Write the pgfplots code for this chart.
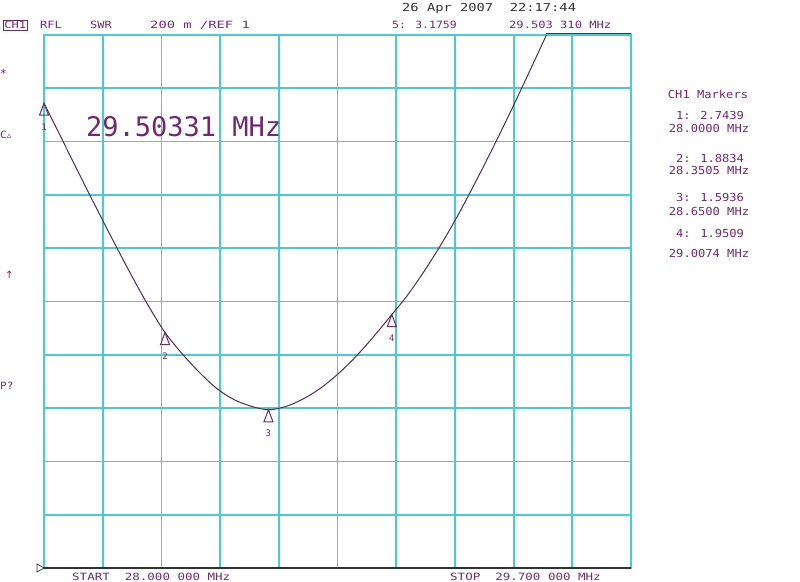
\documentclass[border=0pt]{standalone}
\usepackage{pgfplots}
\pgfplotsset{compat=1.18}
\usepackage{fontspec}
\setmainfont{DejaVu Sans Mono}
\newfontfamily\symfont{DejaVu Sans}

\definecolor{gridcyan}{RGB}{70,205,212}
\definecolor{ink}{RGB}{112,40,112}
\definecolor{trace}{RGB}{80,45,85}
\definecolor{darkline}{RGB}{50,50,50}

% text of the instrument screen: size, horizontal stretch, text
\newcommand\scr[3]{\scalebox{#2}[1]{\fontsize{#1}{#1}\selectfont #3}}

\begin{document}
\begin{tikzpicture}[x=1pt,y=1pt]
  \useasboundingbox (0,0) rectangle (800,581);
  \begin{axis}[
      at={(44pt,13pt)}, anchor=south west,
      scale only axis,
      width=587pt, height=533pt,
      xmin=28, xmax=29.7,
      ymin=1, ymax=3,
      xtick={28,28.17,28.34,28.51,28.68,28.85,29.02,29.19,29.36,29.53,29.7},
      ytick={1,1.2,1.4,1.6,1.8,2,2.2,2.4,2.6,2.8,3},
      xticklabels={}, yticklabels={},
      major tick length=0pt,
      grid=major,
      grid style={gridcyan, line width=1.8pt},
      axis line style={gridcyan, line width=1.8pt},
      clip=false,
    ]

    % SWR trace read from the screen
    \addplot[trace, line width=1pt, smooth] coordinates {
      (28.00,2.7439) (28.05,2.614) (28.10,2.484) (28.15,2.355)
      (28.20,2.229) (28.25,2.106) (28.30,1.989) (28.3505,1.8834)
      (28.40,1.804) (28.45,1.734) (28.50,1.674) (28.55,1.632)
      (28.60,1.607) (28.65,1.5936) (28.70,1.606) (28.75,1.634)
      (28.80,1.674) (28.85,1.7265) (28.90,1.789) (28.95,1.8615)
      (29.0074,1.9509) (29.05,2.019) (29.10,2.1115) (29.15,2.214)
      (29.20,2.3265) (29.25,2.449) (29.30,2.5765) (29.35,2.709)
      (29.40,2.8465) (29.455,3.000)
    };
    % clipped part of the trace along the top
    \addplot[trace, line width=1.8pt, yshift=1.5pt] coordinates {
      (29.455,3.000) (29.700,3.000)
    };

    % markers 1-4
    \addplot[only marks, mark=triangle, mark size=8pt, ink,
      mark options={xscale=0.65, yshift=-8pt, line width=1pt, fill=white},
      point meta=explicit symbolic,
      nodes near coords,
      every node near coord/.style={anchor=north, yshift=-12pt,
        font=\fontsize{9}{9}\selectfont, text=ink, inner sep=0pt},
    ] table[meta=lab] {
      x y lab
      28.0000 2.7439 1
      28.3505 1.8834 2
      28.6500 1.5936 3
      29.0074 1.9509 4
    };
  \end{axis}

  % bottom reference line and reference pointer
  \draw[darkline, line width=1.8pt] (44,13) -- (631,13);
  \draw[darkline, line width=0.7pt] (37,17) -- (44,13) -- (37,9) -- cycle;

  % header
  \begin{scope}[every node/.style={anchor=base west, inner sep=0pt, text=ink}]
    \node[draw=ink, line width=0.8pt, inner sep=1pt] at (3,552) {\scr{10}{1.2}{CH1}};
    \node at (40,552) {\scr{10}{1.2}{RFL}};
    \node at (90,552) {\scr{10}{1.2}{SWR}};
    \node at (150,552) {\scr{10}{1.38}{200 m /REF 1}};
    \node at (392,552) {\scr{10}{1.15}{5: 3.1759}};
    \node at (509,552) {\scr{10}{1.21}{29.503 310 MHz}};
    \node[text=darkline] at (402,569) {\scr{11}{1.25}{26 Apr 2007\ \ 22:17:44}};

    % big marker frequency readout
    \node at (86,444) {\fontsize{27}{27}\selectfont 29.50331 MHz};

    % left softkey hints
    \node at (0,503) {\fontsize{11}{11}\selectfont *};
    \node at (0,442) {\scr{10}{1.1}{C}{\symfont\fontsize{9}{9}\selectfont ▵}};
    \node at (5,302) {{\symfont\fontsize{10}{10}\selectfont ↑}};
    \node at (0,191) {\scr{10}{1.1}{P?}};

    % bottom start/stop
    \node at (72,1) {\scr{10}{1.25}{START\ \ 28.000 000 MHz}};
    \node at (450,1) {\scr{10}{1.25}{STOP\ \ 29.700 000 MHz}};
  \end{scope}

  % marker table on the right
  \begin{scope}[every node/.style={anchor=base, inner sep=0pt, text=ink}]
    \node at (708,482) {\scr{11}{1.1}{CH1 Markers}};
    \node at (710,461) {\scr{11}{1.1}{1: 2.7439}};
    \node at (709,448) {\scr{11}{1.1}{28.0000 MHz}};
    \node at (710,418) {\scr{11}{1.1}{2: 1.8834}};
    \node at (709,406) {\scr{11}{1.1}{28.3505 MHz}};
    \node at (710,379) {\scr{11}{1.1}{3: 1.5936}};
    \node at (709,365) {\scr{11}{1.1}{28.6500 MHz}};
    \node at (710,343) {\scr{11}{1.1}{4: 1.9509}};
    \node at (709,323) {\scr{11}{1.1}{29.0074 MHz}};
  \end{scope}
\end{tikzpicture}
\end{document}
